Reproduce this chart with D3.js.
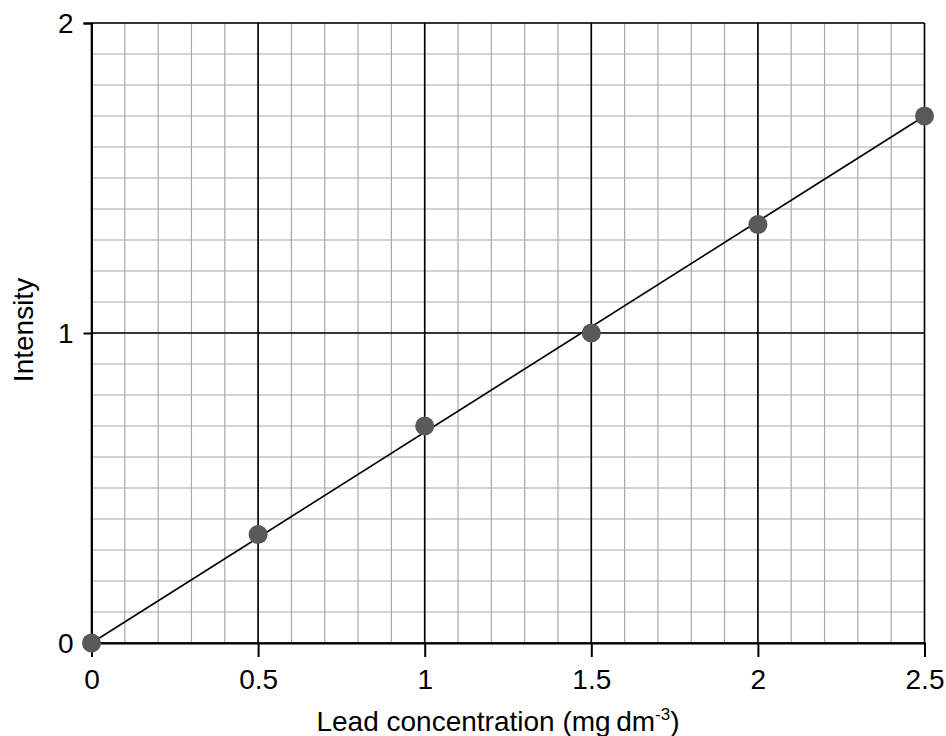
<!DOCTYPE html>
<html><head><meta charset="utf-8">
<script src="https://cdn.jsdelivr.net/npm/d3@7"></script>
<style>body{margin:0;background:#fff}svg{display:block}text{font-family:"Liberation Sans",Arial,sans-serif;fill:#000}</style>
</head><body><svg id="c" width="946" height="736"></svg>
<script>
const concentration = [0, 0.5, 1, 1.5, 2, 2.5];
const intensity = [0, 0.35, 0.7, 1.0, 1.35, 1.7];
const fitLine = [[0, 0], [2.5, 1.7]];
const xTicks = [0, 0.5, 1, 1.5, 2, 2.5];
const yTicks = [0, 1, 2];

const svg = d3.select("#c");
const x = d3.scaleLinear().domain([0, 2.5]).range([91.5, 924.5]);
const y = d3.scaleLinear().domain([0, 2]).range([643, 23]);

const g = svg.append("g");
// minor grid
const xMinor = d3.range(0, 26).map(i => i / 10);
const yMinor = d3.range(0, 21).map(i => i / 10);
g.selectAll(".vx").data(xMinor).join("line")
  .attr("x1", d => x(d)).attr("x2", d => x(d)).attr("y1", y(0)).attr("y2", y(2))
  .attr("stroke", "#a8a8a8").attr("stroke-width", 1.2);
g.selectAll(".hy").data(yMinor).join("line")
  .attr("y1", d => y(d)).attr("y2", d => y(d)).attr("x1", x(0)).attr("x2", x(2.5))
  .attr("stroke", "#a8a8a8").attr("stroke-width", 1.2);
// major grid
g.selectAll(".mx").data(xTicks).join("line")
  .attr("x1", d => x(d)).attr("x2", d => x(d)).attr("y1", y(0)).attr("y2", y(2))
  .attr("stroke", "#000").attr("stroke-width", 1.6);
g.selectAll(".my").data(yTicks).join("line")
  .attr("y1", d => y(d)).attr("y2", d => y(d)).attr("x1", x(0)).attr("x2", x(2.5))
  .attr("stroke", "#000").attr("stroke-width", 1.6);

// axes
const xAxis = d3.axisBottom(x).tickValues(xTicks).tickFormat(d3.format("")).tickSize(14).tickPadding(12);
const yAxis = d3.axisLeft(y).tickValues(yTicks).tickFormat(d3.format("d")).tickSize(8).tickPadding(10);
const ax = svg.append("g").attr("transform", `translate(0,${y(0)})`).call(xAxis);
const ay = svg.append("g").attr("transform", `translate(${x(0)},0)`).call(yAxis);
[ax, ay].forEach(a => {
  a.select(".domain").attr("stroke", "#000").attr("stroke-width", 2);
  a.selectAll(".tick line").attr("stroke", "#000").attr("stroke-width", 2);
  a.selectAll(".tick text").attr("font-size", 28).attr("font-family", "Liberation Sans, Arial, sans-serif");
});
ay.selectAll(".tick text").attr("dy", "0.35em");

// fit line
svg.append("path").datum(fitLine)
  .attr("d", d3.line().x(d => x(d[0])).y(d => y(d[1])))
  .attr("stroke", "#000").attr("stroke-width", 1.6).attr("fill", "none");

// points
svg.selectAll(".pt").data(concentration.map((c, i) => [c, intensity[i]])).join("circle")
  .attr("cx", d => x(d[0])).attr("cy", d => y(d[1])).attr("r", 9.5).attr("fill", "#595959");

// labels
const xl = svg.append("text").attr("x", 498).attr("y", 731).attr("text-anchor", "middle").attr("font-size", 28);
xl.append("tspan").text("Lead concentration (mg\u2009dm");
xl.append("tspan").attr("font-size", 17).attr("dy", -11).text("-3");
xl.append("tspan").attr("dy", 11).text(")");
svg.append("text").attr("transform", "translate(33,330) rotate(-90)").attr("text-anchor", "middle")
  .attr("font-size", 28).text("Intensity");
</script></body></html>
